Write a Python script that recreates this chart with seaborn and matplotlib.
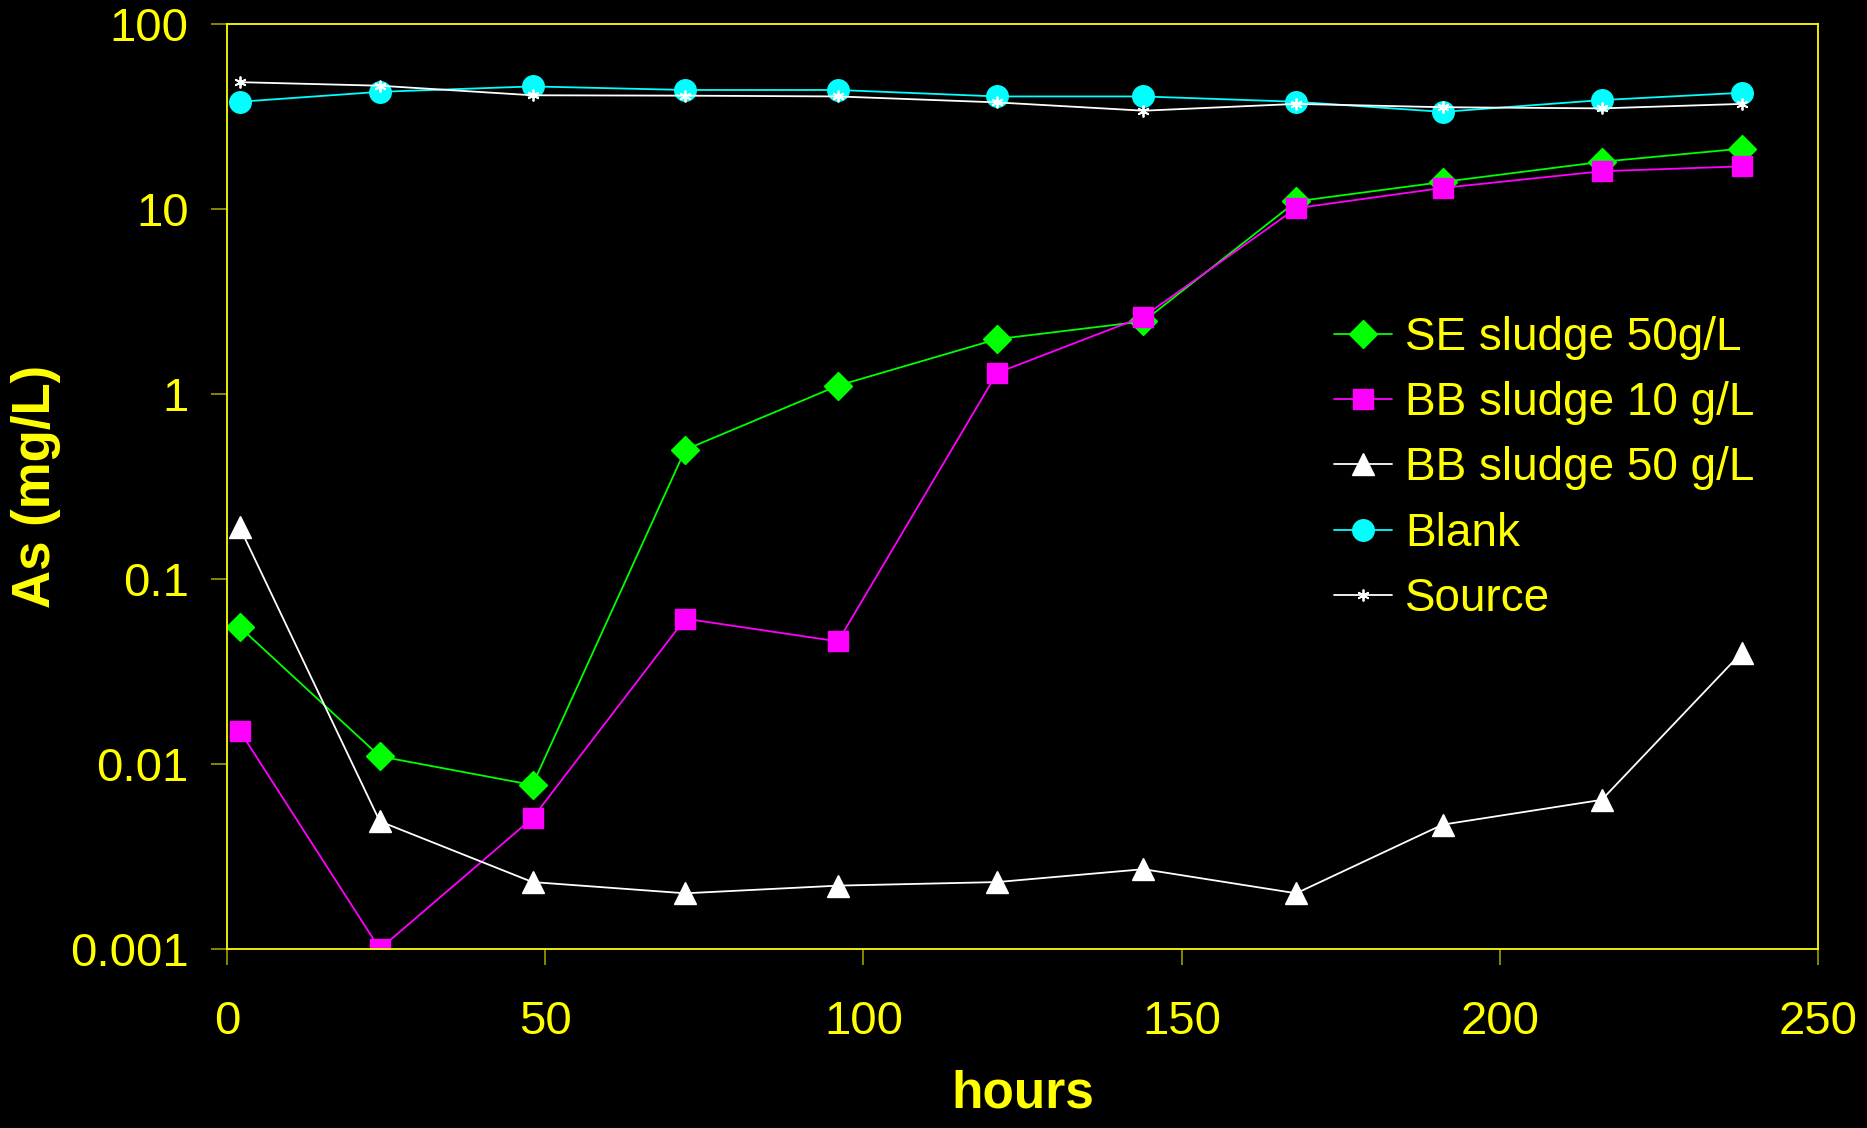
import matplotlib
matplotlib.use("Agg")
import matplotlib.pyplot as plt
import seaborn as sns
from matplotlib.ticker import FixedLocator, FixedFormatter, NullLocator

# ---- data ----
hours = [2, 24, 48, 72, 96, 121, 144, 168, 191, 216, 238]
se_sludge_50 = [0.055, 0.011, 0.0077, 0.50, 1.11, 1.98, 2.47, 11.0, 14.0, 18.0, 21.2]
bb_sludge_10 = [0.0151, 0.0010, 0.0051, 0.061, 0.046, 1.30, 2.62, 10.1, 13.0, 16.0, 17.0]
bb_sludge_50 = [0.19, 0.0049, 0.0023, 0.0020, 0.0022, 0.0023, 0.0027, 0.0020, 0.0047, 0.0064, 0.040]
blank = [38.0, 43.0, 46.0, 44.0, 44.0, 40.6, 40.6, 38.0, 33.5, 38.8, 42.5]
source = [48.5, 46.4, 41.2, 41.0, 40.6, 37.7, 34.0, 37.0, 35.5, 35.0, 37.0]

labels = ["SE sludge 50g/L", "BB sludge 10 g/L", "BB sludge 50 g/L", "Blank", "Source"]
y_ticks = [0.001, 0.01, 0.1, 1, 10, 100]
y_tick_labels = ["0.001", "0.01", "0.1", "1", "10", "100"]
x_ticks = [0, 50, 100, 150, 200, 250]

sns.set_theme(style="dark")
plt.rcParams["font.family"] = ["Liberation Sans", "DejaVu Sans"]

YEL = "#ffff00"
TICKC = "#a09c00"

fig = plt.figure(figsize=(18.67, 11.28), dpi=100, facecolor="black")
ax = fig.add_axes([0.1216, 0.1587, 0.8522, 0.8200])
ax.set_facecolor("black")

styles = [
    (se_sludge_50, "#00ff00", "D", 14.5, "#00ff00", 1.0),
    (bb_sludge_10, "#ff00ff", "s", 15.0, "#ff00ff", 1.0),
    (bb_sludge_50, "#ffffff", "^", 16.5, "#ffffff", 1.0),
    (blank, "#00ffff", "o", 15.5, "#00ffff", 1.0),
    (source, "#ffffff", (6, 2, 0), 8.5, "#ffffff", 1.3),
]

for (vals, color, mk, ms, mec, mew), lab in zip(styles, labels):
    sns.lineplot(x=hours, y=vals, ax=ax, color=color, marker=mk, markersize=ms,
                 markeredgecolor=mec, markerfacecolor=color, markeredgewidth=mew,
                 linewidth=1.3, label=lab, sort=False)

ax.set_yscale("log")
ax.set_xlim(0, 250)
ax.set_ylim(0.001, 100)
ax.yaxis.set_major_locator(FixedLocator(y_ticks))
ax.yaxis.set_major_formatter(FixedFormatter(y_tick_labels))
ax.yaxis.set_minor_locator(NullLocator())
ax.set_xticks(x_ticks)
ax.set_xticklabels([str(v) for v in x_ticks])
ax.grid(False)

for sp in ax.spines.values():
    sp.set_visible(True)
    sp.set_color(YEL)
    sp.set_linewidth(1.3)

ax.tick_params(axis="x", direction="out", length=11.5, width=1.2, color=TICKC,
               labelcolor=YEL, labelsize=34, pad=25, bottom=True)
ax.tick_params(axis="y", direction="out", length=11.5, width=1.2, color=TICKC,
               labelcolor=YEL, labelsize=34, pad=16, left=True)

ax.set_xlabel("hours", color=YEL, fontsize=37, fontweight="bold")
ax.set_ylabel("As (mg/L)", color=YEL, fontsize=38, fontweight="bold")
ax.xaxis.set_label_coords(0.5, -0.13)
ax.yaxis.set_label_coords(-0.1045, 0.5)

leg = ax.legend(loc="upper left", bbox_to_anchor=(0.696, 0.684), frameon=False,
                fontsize=33, labelcolor=YEL, handlelength=1.25, handletextpad=0.3,
                labelspacing=0.46, borderaxespad=0, borderpad=0)

fig.savefig("out.png", dpi=100, facecolor="black")
